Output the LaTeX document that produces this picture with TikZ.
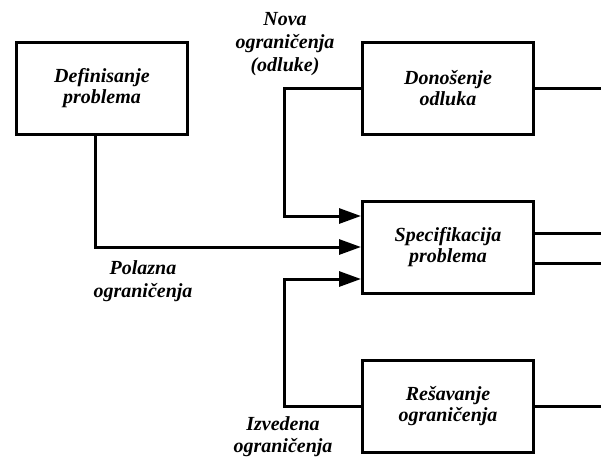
\documentclass[tikz,border=0pt]{standalone}
\usepackage{fontspec}
\setmainfont{Liberation Serif}
\usetikzlibrary{positioning,arrows.meta}
\tikzset{blok/.style={draw,line width=3pt,minimum width=171pt,minimum height=92pt,align=center,
                      font=\bfseries\itshape\fontsize{20}{21}\selectfont},
         oznaka/.style={align=center,inner sep=0pt,font=\bfseries\itshape\fontsize{20}{23}\selectfont},
         linija/.style={line width=3pt}
}
\tikzstyle{strelica} = [line width=3pt,-{Triangle[length=22pt,width=15pt]}]

\begin{document}
\begin{tikzpicture}[x=1pt,y=-1pt]
\useasboundingbox (0,0) rectangle (601,459);

\node[blok] (def) at (102,88) {Definisanje\\problema};
\node[blok,right=172pt of def] (don) {Donošenje\\odluka};
\node[blok,below=64pt of don] (spec) {Specifikacija\\problema};
\node[blok,below=64pt of spec] (res) {Rešavanje\\ograničenja};
\node[oznaka] (nova) at (285,44) {Nova\\ograničenja\\(odluke)};
\node[oznaka] (polazna) at (143,281) {Polazna\\ograničenja};
\node[oznaka,font=\bfseries\itshape\fontsize{20}{22}\selectfont] (izvedena) at (283,437) {Izvedena\\ograničenja};
\coordinate (kraj) at (601,0);

\draw[strelica] ([xshift=-7pt]def.south) |- (spec.west);
\draw[strelica] (don.west) -- ++(-77,0) |- ([yshift=31pt]spec.west);
\draw[strelica] (res.west) -- ++(-77,0) |- ([yshift=-32pt]spec.west);
\draw[linija] (don.east) -- (don.east -| kraj);
\draw[linija] ([yshift=14pt]spec.east) -- ([yshift=14pt]spec.east -| kraj);
\draw[linija] ([yshift=-16pt]spec.east) -- ([yshift=-16pt]spec.east -| kraj);
\draw[linija] (res.east) -- (res.east -| kraj);

\end{tikzpicture}
\end{document}
